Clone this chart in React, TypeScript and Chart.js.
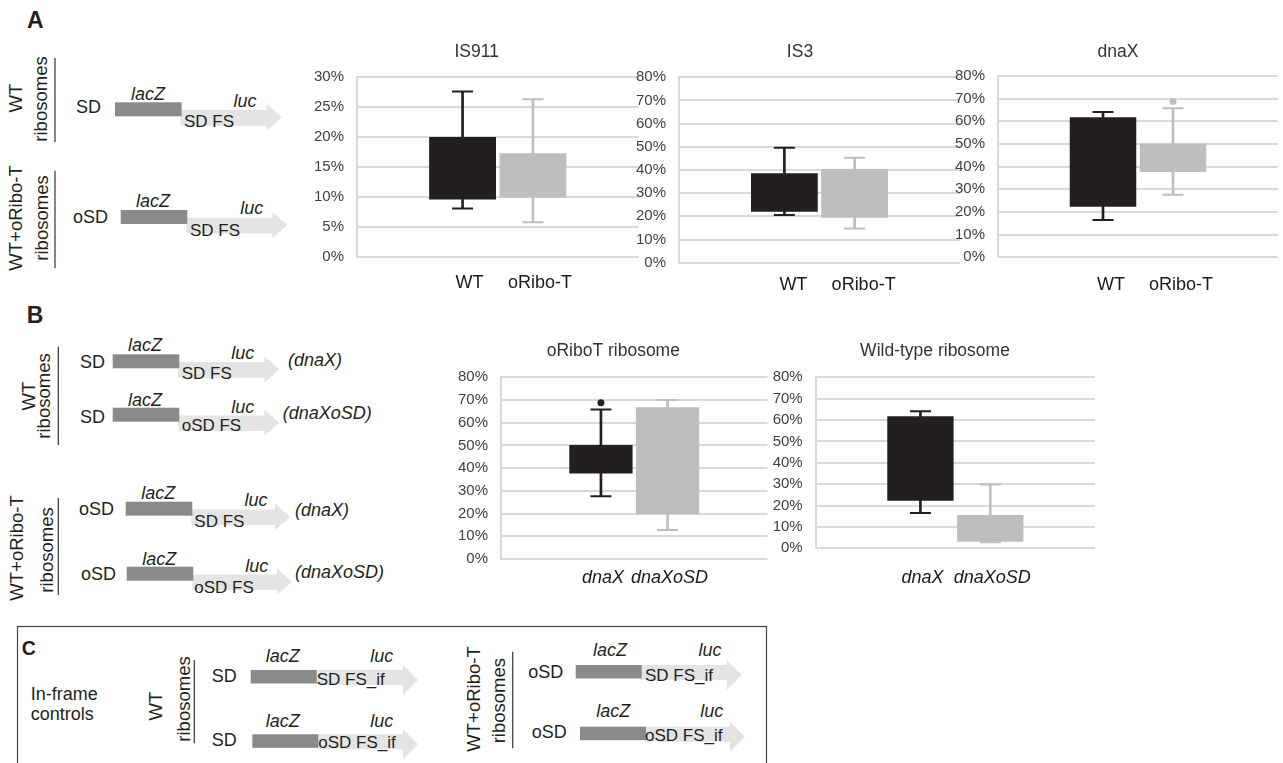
import React, { useEffect, useRef } from 'react';
import { Chart, registerables } from 'chart.js';

Chart.register(...registerables);

const FONT = '"Liberation Sans", Arial, Helvetica, sans-serif';
const DARK = '#231f20';
const GRAY = '#bcbec0';
const GRID = '#d9d9d9';
const BOX = '#8a8a8a';
const ARROW = '#e4e4e4';
const INK = '#231f20';

// ---------------- data ----------------
const groupsA = ['WT', 'oRibo-T'];
const groupsB = ['dnaX', 'dnaXoSD'];

const ticks30 = [0, 5, 10, 15, 20, 25, 30];
const ticks80 = [0, 10, 20, 30, 40, 50, 60, 70, 80];

const is911Q1 = [9.6, 9.9];
const is911Q3 = [20.0, 17.3];
const is911Lo = [8.1, 5.8];
const is911Hi = [27.6, 26.3];
const is911Out: number[][] = [[], []];

const is3Q1 = [22.0, 19.4];
const is3Q3 = [38.6, 40.4];
const is3Lo = [20.6, 14.8];
const is3Hi = [49.6, 45.3];
const is3Out: number[][] = [[], []];

const dnaXQ1 = [22.3, 37.6];
const dnaXQ3 = [61.8, 50.2];
const dnaXLo = [16.5, 27.6];
const dnaXHi = [64.1, 65.8];
const dnaXOut: number[][] = [[], [68.8]];

const oRiboQ1 = [37.6, 19.7];
const oRiboQ3 = [50.2, 66.8];
const oRiboLo = [27.6, 12.8];
const oRiboHi = [65.8, 70.0];
const oRiboOut: number[][] = [[68.8], []];

const wtRibQ1 = [22.3, 3.1];
const wtRibQ3 = [61.8, 15.6];
const wtRibLo = [16.5, 2.8];
const wtRibHi = [64.1, 29.9];
const wtRibOut: number[][] = [[], []];

// ---------------- chart specs ----------------
const charts = [
  {
    id: 'is911', title: 'IS911', groups: groupsA, q1: is911Q1, q3: is911Q3, lo: is911Lo, hi: is911Hi, out: is911Out,
    ticks: ticks30, italic: false, labelOffset: 7,
    geom: { plotLeft: 357, plotRight: 640, plotTop: 77, plotBottom: 257, titleX: 476.7, titleY: 51.7, labelY: 283 },
  },
  {
    id: 'is3', title: 'IS3', groups: groupsA, q1: is3Q1, q3: is3Q3, lo: is3Lo, hi: is3Hi, out: is3Out,
    ticks: ticks80, italic: false, labelOffset: 9,
    geom: { plotLeft: 679, plotRight: 960, plotTop: 77.3, plotBottom: 262.7, titleX: 800, titleY: 51.7, labelY: 285 },
  },
  {
    id: 'dnax', title: 'dnaX', groups: groupsA, q1: dnaXQ1, q3: dnaXQ3, lo: dnaXLo, hi: dnaXHi, out: dnaXOut,
    ticks: ticks80, italic: false, labelOffset: 8,
    geom: { plotLeft: 998, plotRight: 1278, plotTop: 76, plotBottom: 257.3, titleX: 1118, titleY: 51.7, labelY: 285 },
  },
  {
    id: 'oribo', title: 'oRiboT ribosome', groups: groupsB, q1: oRiboQ1, q3: oRiboQ3, lo: oRiboLo, hi: oRiboHi, out: oRiboOut,
    ticks: ticks80, italic: true, labelOffset: 2,
    geom: { plotLeft: 501, plotRight: 768, plotTop: 377.3, plotBottom: 559, titleX: 613.3, titleY: 350.7, labelY: 578.3 },
  },
  {
    id: 'wtrib', title: 'Wild-type ribosome', groups: groupsB, q1: wtRibQ1, q3: wtRibQ3, lo: wtRibLo, hi: wtRibHi, out: wtRibOut,
    ticks: ticks80, italic: true, labelOffset: 2,
    geom: { plotLeft: 815.7, plotRight: 1095, plotTop: 377.3, plotBottom: 548.3, titleX: 935, titleY: 350.7, labelY: 578.3 },
  },
];

const TITLE_SIZE = 17.5;
const X_SIZE = 18;
const Y_SIZE = 15;
const YW = 50;

function computeLayout(g: any) {
  const yw = YW;
  // spacer on the right so the full-width title centres where the reference has it
  const w2 = Math.max(0, yw - (g.plotLeft + g.plotRight - 2 * g.titleX));
  const left = Math.floor(g.plotLeft - yw - 6);
  const pl = g.plotLeft - yw - left;
  const right = Math.ceil(g.plotRight + w2 + 4);
  const pr = right - g.plotRight - w2;
  const lh = TITLE_SIZE * 1.2;
  const top = Math.floor(g.titleY - lh / 2 - 4);
  const tpTop = g.titleY - lh / 2 - top;
  const tpBottom = g.plotTop - g.titleY - lh / 2;
  const bottom = Math.ceil(g.plotBottom + 42);
  const xh = bottom - g.plotBottom;
  const xPad = g.labelY - g.plotBottom - (X_SIZE * 1.2) / 2;
  return { left, top, width: right - left, height: bottom - top, yw, w2, pl, pr, tpTop, tpBottom, xh, xPad };
}

function BoxChart({ spec }: { spec: any }) {
  const ref = useRef<HTMLCanvasElement>(null);
  const L = computeLayout(spec.geom);

  useEffect(() => {
    if (!ref.current) return;
    const cats = ['', ...spec.groups, ''];
    const colors = [DARK, GRAY];
    const at = (i: number, v: any) => cats.map((_, k) => (k === i + 1 ? v : null));
    const colorAt = cats.map((_, k) => (k === 2 ? GRAY : DARK));

    const datasets: any[] = [];
    spec.groups.forEach((_g: string, i: number) => {
      datasets.push({
        type: 'bar', data: at(i, [spec.lo[i], spec.hi[i]]), backgroundColor: colors[i],
        barThickness: 2, grouped: false, order: 3, borderWidth: 0,
      });
    });
    spec.groups.forEach((_g: string, i: number) => {
      datasets.push({
        type: 'bar', data: at(i, [spec.q1[i], spec.q3[i]]), backgroundColor: colors[i],
        barPercentage: 0.95, categoryPercentage: 1, grouped: false, order: 2, borderWidth: 0,
      });
    });
    const capDs = (vals: number[]) => ({
      type: 'line',
      data: cats.map((_, k) => (k >= 1 && k <= vals.length ? vals[k - 1] : null)),
      showLine: false, pointStyle: 'line', pointRadius: 10.5, pointHoverRadius: 10.5,
      pointBorderWidth: 2, pointHoverBorderWidth: 2, pointBorderColor: colorAt,
      pointBackgroundColor: colorAt, order: 1,
    });
    datasets.push(capDs(spec.hi));
    datasets.push(capDs(spec.lo));
    const outPts: any[] = [];
    const outCols: string[] = [];
    spec.out.forEach((arr: number[], i: number) => {
      arr.forEach((v) => {
        outPts.push({ x: spec.groups[i], y: v });
        outCols.push(colors[i]);
      });
    });
    if (outPts.length) {
      datasets.push({
        type: 'line', data: outPts, showLine: false, pointStyle: 'circle', pointRadius: 3.5,
        pointHoverRadius: 3.5, pointBorderWidth: 0, pointBackgroundColor: outCols, order: 0,
      });
    }

    const chart = new Chart(ref.current, {
      type: 'bar',
      data: { labels: cats, datasets },
      options: {
        responsive: false,
        animation: false,
        devicePixelRatio: 1,
        events: [],
        layout: { padding: { left: L.pl, right: L.pr, top: 0, bottom: 0 } },
        plugins: {
          legend: { display: false },
          tooltip: { enabled: false },
          title: {
            display: true, text: spec.title, color: '#333333',
            font: { family: FONT, size: TITLE_SIZE, weight: 'normal' },
            padding: { top: L.tpTop, bottom: L.tpBottom },
          },
        },
        scales: {
          x: {
            grid: { display: false, drawTicks: false },
            border: { display: false },
            ticks: {
              color: '#1a1a1a',
              font: { family: FONT, size: X_SIZE, style: spec.italic ? 'italic' : 'normal' },
              padding: L.xPad, labelOffset: spec.labelOffset, maxRotation: 0, minRotation: 0, autoSkip: false,
            },
            afterFit: (s: any) => { s.height = L.xh; },
          },
          y: {
            min: 0,
            max: spec.ticks[spec.ticks.length - 1],
            afterBuildTicks: (s: any) => { s.ticks = spec.ticks.map((v: number) => ({ value: v })); },
            ticks: {
              color: '#404040', font: { family: FONT, size: Y_SIZE }, padding: 13,
              callback: (v: any) => `${v}%`,
            },
            grid: { color: GRID, lineWidth: 2, drawTicks: false },
            border: { display: true, color: GRID, width: 2 },
            afterFit: (s: any) => { s.width = L.yw; },
          },
          spacer: {
            type: 'linear',
            position: 'right',
            display: true,
            grid: { display: false, drawTicks: false },
            border: { display: false },
            ticks: { display: false },
            afterFit: (s: any) => { s.width = L.w2; },
          },
        },
      } as any,
    } as any);
    return () => chart.destroy();
  }, []);

  return (
    <canvas
      ref={ref}
      width={L.width}
      height={L.height}
      style={{ position: 'absolute', left: L.left, top: L.top, width: L.width, height: L.height }}
    />
  );
}

// ---------------- diagrams ----------------
const constructsAB = [
  { x0: 115, y0: 102.3, tip: 281.7, prom: 'SD', px: 76, py: 113.3, fs: 'SD FS', fx: 184, fy: 127.3, lx: 148, ly: 100, ux: 245, uy: 106.7 },
  { x0: 120.7, y0: 210, tip: 287.3, prom: 'oSD', px: 73, py: 223.3, fs: 'SD FS', fx: 190, fy: 236, lx: 153, ly: 206.7, ux: 251.7, uy: 214.3 },
  { x0: 112.7, y0: 354.3, tip: 279.3, prom: 'SD', px: 80, py: 367.7, fs: 'SD FS', fx: 181.7, fy: 379.3, lx: 145, ly: 351, ux: 242.7, uy: 359.3, tag: '(dnaX)', tx: 288, ty: 365.5 },
  { x0: 112.7, y0: 407.7, tip: 279.3, prom: 'SD', px: 80, py: 422.7, fs: 'oSD FS', fx: 181.7, fy: 431, lx: 145, ly: 406, ux: 242.7, uy: 413.3, tag: '(dnaXoSD)', tx: 282.7, ty: 419 },
  { x0: 125.7, y0: 501.7, tip: 290, prom: 'oSD', px: 79, py: 515, fs: 'SD FS', fx: 194.3, fy: 526.7, lx: 158.3, ly: 499.3, ux: 256, uy: 506, tag: '(dnaX)', tx: 295, ty: 515.5 },
  { x0: 126.7, y0: 566.7, tip: 292, prom: 'oSD', px: 81, py: 580, fs: 'oSD FS', fx: 194.3, fy: 592.7, lx: 159.3, ly: 565, ux: 256.7, uy: 571.7, tag: '(dnaXoSD)', tx: 295, ty: 578 },
];

const constructsC = [
  { x0: 250.7, y0: 670, tip: 418, prom: 'SD', px: 211.7, py: 681.7, fs: 'SD FS_if', fx: 316.7, fy: 684.5, lx: 282.7, ly: 661.7, ux: 381.7, uy: 661.7 },
  { x0: 252.3, y0: 734.3, tip: 418, prom: 'SD', px: 211.7, py: 745.7, fs: 'oSD FS_if', fx: 318.3, fy: 748, lx: 282.7, ly: 726.7, ux: 381.7, uy: 726.7 },
  { x0: 575.7, y0: 665, tip: 741.7, prom: 'oSD', px: 528.3, py: 678.3, fs: 'SD FS_if', fx: 645, fy: 681, lx: 610, ly: 655.7, ux: 710, uy: 655.7 },
  { x0: 580, y0: 726.7, tip: 745, prom: 'oSD', px: 531.7, py: 737.7, fs: 'oSD FS_if', fx: 645, fy: 741, lx: 613.3, ly: 716.7, ux: 711.7, uy: 716.7 },
];

const rotLabels = [
  { text: 'WT', bx: 21.7, cy: 98 },
  { text: 'ribosomes', bx: 47, cy: 99 },
  { text: 'WT+oRibo-T', bx: 21.7, cy: 218 },
  { text: 'ribosomes', bx: 48, cy: 218 },
  { text: 'WT', bx: 35, cy: 396 },
  { text: 'ribosomes', bx: 50, cy: 396 },
  { text: 'WT+oRibo-T', bx: 23.3, cy: 548 },
  { text: 'ribosomes', bx: 52.5, cy: 550 },
  { text: 'WT', bx: 161.7, cy: 706 },
  { text: 'ribosomes', bx: 190, cy: 699 },
  { text: 'WT+oRibo-T', bx: 480, cy: 699 },
  { text: 'ribosomes', bx: 505, cy: 700.7 },
];

const sepLines = [
  { x: 55, y1: 58, y2: 142 },
  { x: 55, y1: 170.7, y2: 268.3 },
  { x: 58.3, y1: 346.7, y2: 445 },
  { x: 58.3, y1: 498, y2: 595 },
  { x: 194.3, y1: 660, y2: 743.3 },
  { x: 512.7, y1: 651.7, y2: 748.3 },
];

function Construct({ c, kind }: { c: any; kind: 'ab' | 'c' }) {
  const w = kind === 'ab' ? 66.6 : 66;
  const bh = kind === 'ab' ? 14 : 13.5;
  const hx = c.tip - 15;
  const sx = c.x0 + w - 1;
  const pts =
    kind === 'ab'
      ? [[sx, c.y0 + 7.7], [hx, c.y0 + 7.7], [hx, c.y0 + 1.7], [c.tip, c.y0 + 15], [hx, c.y0 + 28.4], [hx, c.y0 + 23.4], [sx, c.y0 + 23.4]]
      : [[sx, c.y0], [hx, c.y0], [hx, c.y0 - 5], [c.tip, c.y0 + 10], [hx, c.y0 + 25], [hx, c.y0 + 15], [sx, c.y0 + 15]];
  const t = { fontFamily: FONT, fill: INK };
  return (
    <g>
      <polygon points={pts.map((p) => p.join(',')).join(' ')} fill={ARROW} />
      <rect x={c.x0} y={c.y0} width={w} height={bh} fill={BOX} />
      <text x={c.px} y={c.py} fontSize={18} {...t}>{c.prom}</text>
      <text x={c.fx} y={c.fy} fontSize={17} {...t}>{c.fs}</text>
      <text x={c.lx} y={c.ly} fontSize={18} fontStyle="italic" textAnchor="middle" {...t}>lacZ</text>
      <text x={c.ux} y={c.uy} fontSize={18} fontStyle="italic" textAnchor="middle" {...t}>luc</text>
      {c.tag ? <text x={c.tx} y={c.ty} fontSize={18} fontStyle="italic" {...t}>{c.tag}</text> : null}
    </g>
  );
}

function Diagrams() {
  const t = { fontFamily: FONT, fill: INK };
  return (
    <svg width={1283} height={763} style={{ position: 'absolute', left: 0, top: 0 }}>
      <text x={27} y={28.3} fontSize={23} fontWeight="bold" {...t}>A</text>
      <text x={26.7} y={323.3} fontSize={23} fontWeight="bold" {...t}>B</text>
      <rect x={17.5} y={626.5} width={749} height={200} fill="none" stroke="#444" strokeWidth={1.2} />
      <text x={21.7} y={655} fontSize={19.5} fontWeight="bold" {...t}>C</text>
      <text x={30.7} y={700} fontSize={18} {...t}>In-frame</text>
      <text x={30.7} y={720} fontSize={18} {...t}>controls</text>
      {sepLines.map((l, i) => (
        <line key={'l' + i} x1={l.x} x2={l.x} y1={l.y1} y2={l.y2} stroke="#333" strokeWidth={1.2} />
      ))}
      {rotLabels.map((r, i) => (
        <text key={'r' + i} transform={`translate(${r.bx},${r.cy}) rotate(-90)`} x={0} y={0}
          fontSize={18.5} textAnchor="middle" {...t}>{r.text}</text>
      ))}
      {constructsAB.map((c, i) => <Construct key={'ab' + i} c={c} kind="ab" />)}
      {constructsC.map((c, i) => <Construct key={'c' + i} c={c} kind="c" />)}
    </svg>
  );
}

export default function App() {
  return (
    <div style={{ position: 'absolute', left: 0, top: 0, width: 1283, height: 763, overflow: 'hidden', background: '#ffffff' }}>
      <Diagrams />
      {charts.map((s) => <BoxChart key={s.id} spec={s} />)}
    </div>
  );
}
